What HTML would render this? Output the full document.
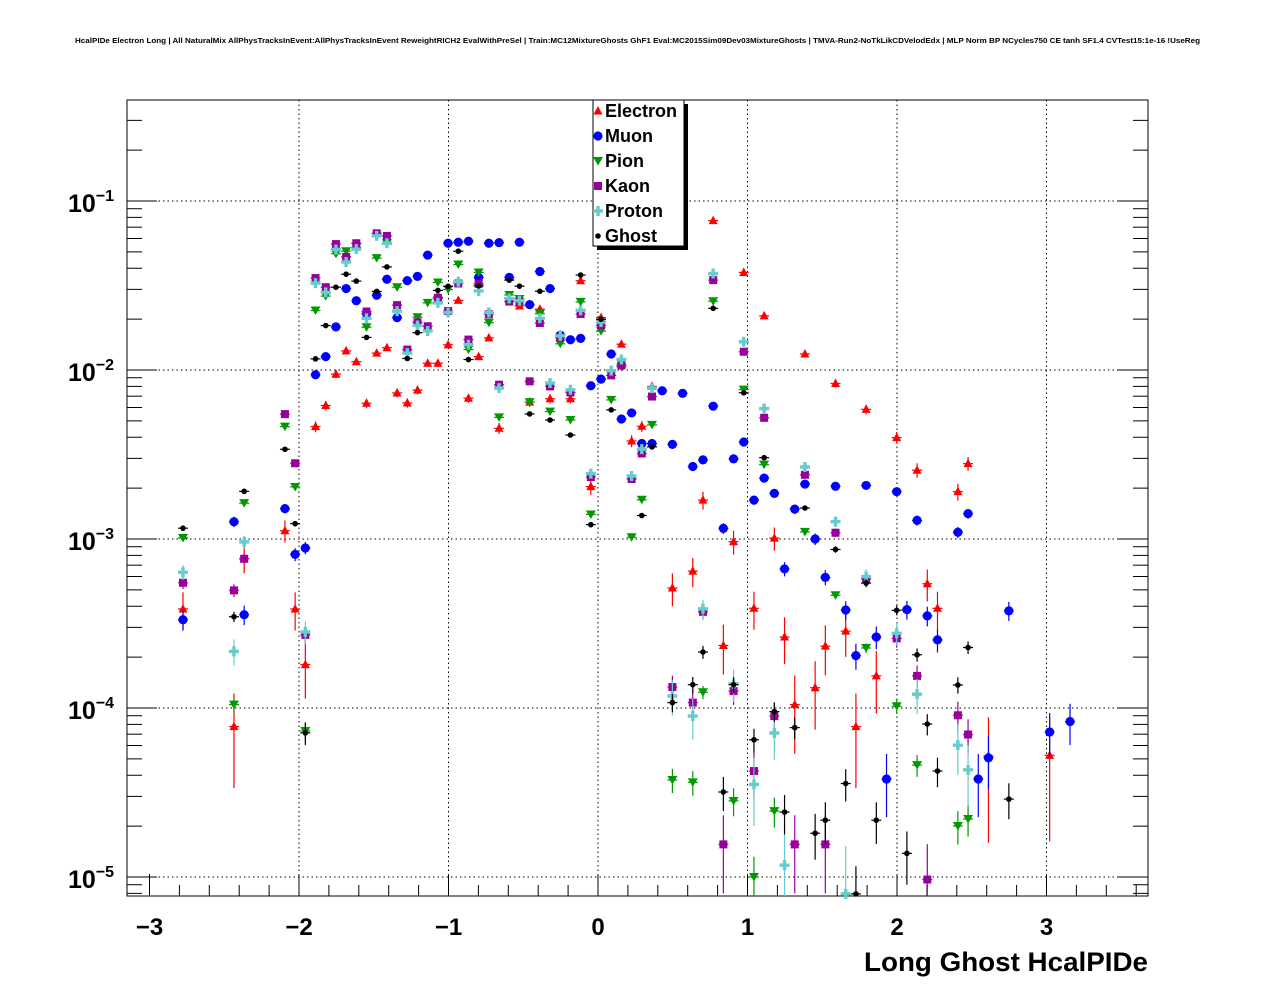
<!DOCTYPE html>
<html><head><meta charset="utf-8"><style>
html,body{margin:0;padding:0;background:#fff;}
svg{display:block;font-family:"Liberation Sans",Arial,sans-serif;}
</style></head><body>
<svg id="chart" xmlns="http://www.w3.org/2000/svg" width="1276" height="996" viewBox="0 0 1276 996">
<rect x="0" y="0" width="1276" height="996" fill="#fff"/>
<text x="75" y="43" font-size="7.2" font-weight="bold" textLength="1125" lengthAdjust="spacingAndGlyphs">HcalPIDe Electron Long | All NaturalMix AllPhysTracksInEvent:AllPhysTracksInEvent ReweightRICH2 EvalWithPreSel | Train:MC12MixtureGhosts GhF1 Eval:MC2015Sim09Dev03MixtureGhosts | TMVA-Run2-NoTkLikCDVelodEdx | MLP Norm BP NCycles750 CE tanh SF1.4 CVTest15:1e-16 !UseReg</text>
<rect x="127" y="100" width="1021" height="796" fill="none" stroke="#000" stroke-width="1"/>
<g id="grid"></g>
<g id="axes"></g>
<g id="marks"></g>
<text x="1148" y="971" font-size="27" font-weight="bold" text-anchor="end" textLength="284" lengthAdjust="spacingAndGlyphs">Long Ghost HcalPIDe</text>
<g id="legend">
<rect x="597" y="104" width="91" height="146" fill="#000"/>
<rect x="593" y="100" width="91" height="146" fill="#fff" stroke="#000" stroke-width="1"/>
</g>
</svg>
<script>
const NS='http://www.w3.org/2000/svg';
// ---- axis data ----
const xTickValues=[-3,-2,-1,0,1,2,3];
const xTickLabels=['\u22123','\u22122','\u22121','0','1','2','3'];
const yDecades=[-1,-2,-3,-4,-5];
const yTickLabels=['\u22121','\u22122','\u22123','\u22124','\u22125'];
// bin geometry
const binX0=-2.776, binW=0.0682;
// ---- series data: bin index + log10(value) ----
const seriesNames=['Electron','Muon','Pion','Kaon','Proton','Ghost'];
const electronBins=[0,5,6,10,11,12,13,14,15,16,17,18,19,20,21,22,23,24,25,26,27,28,29,30,31,33,34,35,36,38,39,40,41,43,44,45,46,48,50,51,52,53,54,55,56,57,58,59,60,61,62,63,64,65,66,67,68,70,72,73,74,76,77,79,85];
const electronLog=[-3.414,-4.11,-3.117,-2.951,-3.414,-3.743,-2.335,-2.21,-2.025,-1.887,-1.951,-2.197,-1.9,-1.868,-2.136,-2.195,-2.119,-1.96,-1.96,-1.851,-1.588,-2.167,-1.921,-1.81,-2.345,-1.621,-2.19,-1.64,-2.17,-2.17,-1.472,-2.69,-1.69,-1.847,-2.42,-2.333,-2.097,-3.29,-3.19,-2.77,-1.116,-3.63,-3.016,-1.423,-3.41,-1.68,-2.995,-3.58,-3.98,-1.905,-3.88,-3.634,-2.08,-3.545,-4.11,-2.233,-3.81,-2.40,-2.593,-3.265,-3.41,-2.72,-2.554,-4.284,-4.28];
const muonBins=[0,5,6,10,11,12,13,14,15,16,17,18,19,20,21,22,23,24,25,26,27,28,29,30,31,32,33,34,35,36,37,38,39,40,41,42,43,44,45,46,47,48,49,50,51,52,53,54,55,56,57,58,59,60,61,62,63,64,65,66,67,68,69,70,71,72,73,74,76,77,78,79,81,85,87];
const muonLog=[-3.478,-2.898,-3.448,-2.82,-3.091,-3.053,-2.028,-1.921,-1.745,-1.518,-1.59,-1.667,-1.558,-1.463,-1.69,-1.471,-1.446,-1.32,-1.573,-1.25,-1.244,-1.238,-1.452,-1.25,-1.246,-1.452,-1.244,-1.613,-1.417,-1.518,-1.794,-1.821,-1.813,-2.093,-2.054,-1.905,-2.29,-2.254,-2.435,-2.435,-2.123,-2.44,-2.138,-2.571,-2.532,-2.214,-2.937,-2.526,-2.426,-2.77,-2.64,-2.73,-3.177,-2.823,-2.675,-3.0,-3.227,-2.688,-3.42,-3.69,-2.683,-3.58,-4.42,-2.72,-3.418,-2.89,-3.455,-3.597,-2.96,-2.85,-4.42,-4.295,-3.425,-4.142,-4.08];
const pionBins=[0,5,6,10,11,12,13,14,15,16,17,18,19,20,21,23,24,25,26,27,28,29,30,31,32,33,34,35,36,37,38,39,40,41,42,43,44,45,46,48,50,51,52,54,55,56,57,58,61,64,67,70,72,76,77];
const pionLog=[-2.994,-3.98,-2.788,-2.335,-2.692,-4.136,-1.648,-1.563,-1.312,-1.297,-1.274,-1.747,-1.338,-1.25,-1.51,-1.688,-1.603,-1.482,-1.524,-1.376,-1.879,-1.423,-1.72,-2.28,-1.556,-1.58,-2.19,-1.667,-2.246,-1.845,-2.296,-1.597,-2.855,-1.77,-2.177,-1.982,-2.99,-2.768,-2.325,-4.426,-4.44,-3.907,-1.593,-4.55,-2.116,-5.0,-2.56,-4.61,-2.958,-3.333,-3.645,-3.99,-4.338,-4.698,-4.657];
const kaonBins=[0,5,6,10,11,12,13,14,15,16,17,18,19,20,21,22,23,24,25,26,27,28,29,30,31,32,33,34,35,36,37,38,39,40,41,42,43,44,45,46,48,50,51,52,53,54,55,56,57,58,60,61,63,64,67,70,72,73,76,77];
const kaonLog=[-3.259,-3.304,-3.117,-2.261,-2.552,-3.567,-1.456,-1.51,-1.255,-1.331,-1.25,-1.654,-1.191,-1.207,-1.616,-1.879,-1.718,-1.741,-1.573,-1.651,-1.488,-1.82,-1.49,-1.67,-2.087,-1.595,-1.595,-2.067,-1.722,-2.097,-1.81,-2.133,-1.669,-2.633,-1.736,-2.032,-1.972,-2.645,-2.494,-2.157,-3.876,-3.968,-3.431,-1.468,-4.807,-3.90,-1.892,-4.373,-2.283,-4.048,-4.807,-2.62,-4.807,-2.963,-3.237,-3.588,-3.81,-5.015,-4.043,-4.157];
const protonBins=[0,5,6,12,13,14,15,16,17,18,19,20,21,22,23,24,25,26,27,28,29,30,31,32,33,35,36,37,38,39,40,41,42,43,44,45,46,48,50,51,52,54,55,56,57,58,59,61,64,65,67,70,72,76,77];
const protonLog=[-3.197,-3.665,-3.017,-3.55,-1.486,-1.541,-1.287,-1.361,-1.285,-1.694,-1.206,-1.25,-1.652,-1.9,-1.737,-1.769,-1.603,-1.66,-1.478,-1.85,-1.532,-1.66,-2.107,-1.577,-1.59,-1.694,-2.077,-1.798,-2.117,-1.647,-2.613,-1.716,-2.004,-1.938,-2.627,-2.468,-2.107,-3.929,-4.048,-3.413,-1.429,-3.857,-1.833,-4.452,-2.228,-4.148,-4.93,-2.574,-2.897,-5.10,-3.222,-3.558,-3.918,-4.22,-4.366];
const ghostBins=[0,5,6,10,11,12,13,14,15,16,17,18,19,20,22,23,25,26,27,28,29,32,33,34,35,36,38,39,40,41,42,45,46,48,50,51,52,53,54,55,56,57,58,59,60,61,62,63,64,65,66,67,68,70,71,72,73,74,76,77,81];
const ghostLog=[-2.936,-3.46,-2.718,-2.469,-2.909,-4.147,-1.934,-1.737,-1.51,-1.433,-1.474,-1.807,-1.535,-1.39,-1.932,-1.779,-1.529,-1.505,-1.297,-1.938,-1.502,-1.468,-1.504,-2.26,-1.534,-2.296,-2.385,-1.438,-2.915,-1.70,-2.236,-2.861,-2.455,-3.968,-3.862,-3.669,-1.635,-4.497,-3.862,-2.135,-4.188,-2.519,-4.021,-4.616,-4.116,-2.817,-4.741,-4.664,-3.062,-4.447,-5.10,-3.261,-4.664,-3.422,-4.86,-3.685,-4.095,-4.373,-3.864,-3.642,-4.539];
const seriesColors=['#ff0000','#0000ff','#009900','#990099','#66cccc','#000000'];
const seriesStats=[40000,160000,1000000,270000,150000,600000];
// ---- scales ----
const X0=127,X1=1148,Y0=100,Y1=896;
function xScale(v){return 598+149.5*v;}
function yScale(l){return 201+(-1-l)*169;}
function binCenter(i){return binX0+binW*i;}
function mk(tag,attrs,parent){const e=document.createElementNS(NS,tag);for(const k in attrs)e.setAttribute(k,attrs[k]);parent.appendChild(e);return e;}
const grid=document.getElementById('grid'),axes=document.getElementById('axes'),marks=document.getElementById('marks'),legend=document.getElementById('legend');
// grid
xTickValues.slice(1).forEach(v=>{const x=xScale(v);
 const g=mk('line',{x1:x,x2:x,y1:Y0,y2:Y1,stroke:'#000','stroke-width':1,'stroke-dasharray':'1.5,3'},grid);
 
 });
yDecades.forEach(d=>{const y=yScale(d);
 const g=mk('line',{x1:X0,x2:X1,y1:y,y2:y,stroke:'#000','stroke-width':1,'stroke-dasharray':'1.5,3'},grid);
 
 });
// x ticks
for(let k=-16;k<=19;k++){const v=k*0.2;const x=xScale(v);if(x<X0||x>X1)continue;
 const major=Math.abs(v-Math.round(v))<1e-6;const len=major?22:11;
 const t=mk('line',{x1:x,x2:x,y1:Y1,y2:Y1-len,stroke:'#000','stroke-width':1},axes);
 
 }
xTickValues.forEach((v,i)=>{const t=mk('text',{x:xScale(v),y:935,'font-size':24,'font-weight':'bold','text-anchor':'middle'},axes);t.textContent=xTickLabels[i];
 
 });
// y ticks (log)
for(let d=-6;d<=0;d++){for(let m=1;m<=9;m++){const l=d+Math.log10(m);const y=yScale(l);if(y<Y0||y>Y1)continue;
 const len=m===1?30:15;
 const a=mk('line',{x1:X0,x2:X0+len,y1:y,y2:y,stroke:'#000','stroke-width':1},axes);
 
 
 const b=mk('line',{x1:X1,x2:X1-len,y1:y,y2:y,stroke:'#000','stroke-width':1},axes);
 
 }}
yDecades.forEach((d,i)=>{const y=yScale(d);
 const t=mk('text',{x:68,y:y+11,'font-size':25,'font-weight':'bold'},axes);
 
 
 t.appendChild(document.createTextNode('10'));
 const s=mk('tspan',{'font-size':16,dy:-11},t);s.textContent=yTickLabels[i];});
// markers
function marker(k,x,y,parent){const c=seriesColors[k];let e;
 if(k===0)e=mk('polygon',{points:`${x},${y-5} ${x-4.5},${y+3.5} ${x+4.5},${y+3.5}`,fill:c},parent);
 else if(k===1)e=mk('circle',{cx:x,cy:y,r:4.6,fill:c},parent);
 else if(k===2)e=mk('polygon',{points:`${x-5},${y-4} ${x+5},${y-4} ${x},${y+4.5}`,fill:c},parent);
 else if(k===3)e=mk('rect',{x:x-4,y:y-4,width:8,height:8,fill:c},parent);
 else if(k===4)e=mk('path',{d:`M${x-1.7},${y-5}h3.4v3.3h3.3v3.4h-3.3v3.3h-3.4v-3.3h-3.3v-3.4h3.3z`,fill:c},parent);
 else e=mk('circle',{cx:x,cy:y,r:2.8,fill:c},parent);
 return e;}
const allBins=[electronBins,muonBins,pionBins,kaonBins,protonBins,ghostBins];
const allLog=[electronLog,muonLog,pionLog,kaonLog,protonLog,ghostLog];
allBins.forEach((bins,k)=>{
 const g=mk('g',{},marks);
 
 
 bins.forEach((b,j)=>{const l=allLog[k][j];const v=Math.pow(10,l);
  const x=xScale(binCenter(b));const y=yScale(l);
  if(y<Y0||y>Y1+2)return;
  const r=1/Math.sqrt(v*seriesStats[k]);
  const yt=Math.max(Y0,yScale(Math.log10(v*(1+r))));
  const lo=v*(1-r);const yb=lo>0?Math.min(Y1,yScale(Math.log10(lo))):Y1;
  const c=seriesColors[k];
  const h=mk('line',{x1:x-5,x2:x+5,y1:y,y2:y,stroke:c,'stroke-width':1.2},g);
  
  
  const vl=mk('line',{x1:x,x2:x,y1:yt,y2:yb,stroke:c,'stroke-width':1.2},g);
  
  
  const m=marker(k,x,y,g);
  
  });});
// legend entries
seriesNames.forEach((n,k)=>{const y=111+25*k;
 const g=mk('g',{},legend);
 
 
 marker(k,598,y,g);
 const t=mk('text',{x:605,y:y+6,'font-size':18,'font-weight':'bold'},g);t.textContent=n;});
</script>
</body></html>
